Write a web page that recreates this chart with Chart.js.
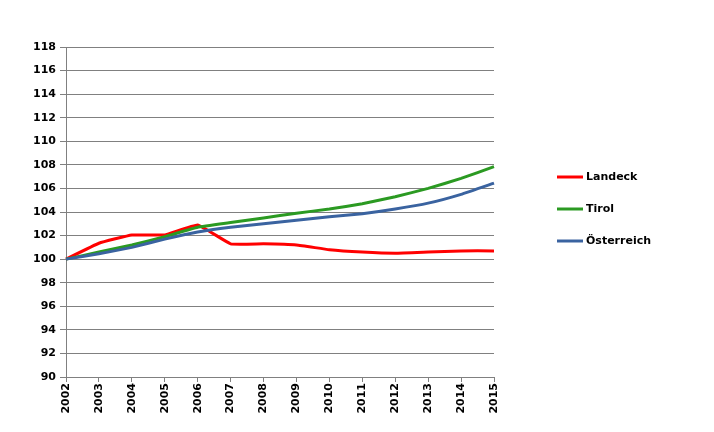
<!DOCTYPE html>
<html><head><meta charset="utf-8">
<script src="https://cdn.jsdelivr.net/npm/chart.js@4/dist/chart.umd.min.js"></script>
<style>html,body{margin:0;padding:0;background:#fff}#c{display:block}</style>
</head><body>
<canvas id="c" width="714" height="432"></canvas>
<script>
const years = ['2002','2003','2004','2005','2006','2007','2008','2009','2010','2011','2012','2013','2014','2015'];
const landeck = [100,101.35,102.05,102.05,102.9,101.3,101.3,101.2,100.8,100.6,100.5,100.6,100.7,100.7];
const tirol = [100,100.6,101.2,101.9,102.7,103.1,103.5,103.9,104.25,104.7,105.3,106.0,106.85,107.85];
const oesterreich = [100,100.45,101.0,101.7,102.3,102.7,103.0,103.3,103.6,103.85,104.25,104.75,105.5,106.45];
const seriesNames = ['Landeck','Tirol','Österreich'];
const seriesColors = ['#ff0000','#2b9a22','#3a63a0'];
const FONT = {family:'"DejaVu Sans", Verdana, sans-serif', size:11, weight:'bold'};

const legendPlugin = {
  id:'sideLegend',
  afterDraw(chart){
    const ctx = chart.ctx;
    ctx.save();
    ctx.font = 'bold 11px "DejaVu Sans", Verdana, sans-serif';
    ctx.textBaseline = 'middle';
    chart.data.datasets.forEach((ds,i)=>{
      const y = 177 + i*32;
      ctx.strokeStyle = ds.borderColor;
      ctx.lineWidth = 3;
      ctx.beginPath(); ctx.moveTo(557,y); ctx.lineTo(583,y); ctx.stroke();
      ctx.fillStyle = '#000';
      ctx.fillText(ds.label, 586, y);
    });
    ctx.restore();
  }
};

new Chart(document.getElementById('c'), {
  type:'line',
  data:{
    labels: years,
    datasets:[landeck,tirol,oesterreich].map((d,i)=>({
      label: seriesNames[i], data:d, borderColor:seriesColors[i], backgroundColor:seriesColors[i],
      borderWidth:3, pointRadius:0, tension:0.1, fill:false, order:2-i
    }))
  },
  options:{
    responsive:false, animation:false,
    layout:{padding:{top:47,right:220,left:0,bottom:0}},
    plugins:{legend:{display:false}, tooltip:{enabled:false}},
    scales:{
      x:{
        offset:false,
        grid:{drawOnChartArea:false, drawTicks:true, tickLength:5, color:'#808080'},
        border:{color:'#808080', width:1},
        ticks:{font:FONT, color:'#000', maxRotation:90, minRotation:90, autoSkip:false, padding:1},
        afterFit(s){ s.height = 55; }
      },
      y:{
        min:90, max:118,
        grid:{color:'#808080', tickLength:6, lineWidth:1},
        border:{color:'#808080', width:1},
        ticks:{font:FONT, color:'#000', stepSize:2, padding:4},
        afterFit(s){ s.width = 66; }
      }
    }
  },
  plugins:[legendPlugin]
});
</script>
</body></html>
